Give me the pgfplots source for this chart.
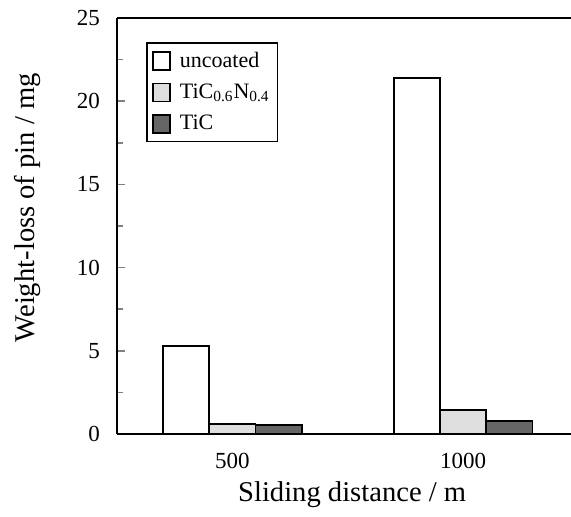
\documentclass[border=0pt]{standalone}
\usepackage{pgfplots}
\pgfplotsset{compat=1.18}
\usepackage{fontspec}
\setmainfont{Liberation Serif}

\pgfplotstableread{
x   uncoated  ticn  tic
0   5.31      0.62  0.52
1   21.4      1.44  0.78
}\wear

\begin{document}
\begin{tikzpicture}
\path[use as bounding box] (-58.5pt,-41.5pt) rectangle (227pt,217pt);
\begin{axis}[
  at={(0pt,0pt)}, anchor=south west,
  scale only axis,
  width=227pt, height=208pt,
  ybar=0pt, bar width=0.2,
  xmin=-0.5, xmax=1.467,
  ymin=0, ymax=25,
  axis x line*=bottom, axis y line*=left,
  axis line style={-, line width=0.9pt},
  xtick={0,1}, xticklabels={500,1000},
  x tick style={draw=none},
  extra x ticks={0.5}, extra x tick labels={},
  extra x tick style={tick align=outside, major tick length=4pt,
    tick style={draw=black, line width=0.8pt}},
  ytick={0,5,...,25}, minor y tick num=1,
  y tick style={line width=0.8pt},
  tick align=inside,
  major tick length=4pt, minor tick length=3pt,
  /pgf/number format/assume math mode=true,
  ticklabel style={font=\fontsize{11.5}{13}\selectfont},
  xticklabel style={yshift=-6pt},
  yticklabel style={xshift=-5pt},
  xlabel={Sliding distance / m},
  ylabel={Weight-loss of pin / mg},
  every axis x label/.style={at={(axis description cs:0.518,-0.145)}, anchor=center,
    font=\fontsize{14.3}{16}\selectfont},
  every axis y label/.style={at={(axis description cs:-0.196,0.544)}, rotate=90, anchor=center,
    font=\fontsize{14.3}{16}\selectfont},
  legend style={at={(axis description cs:0.064,0.942)}, anchor=north west,
    draw=black, line width=0.8pt, font=\fontsize{11}{13}\selectfont,
    row sep=2.8pt, inner xsep=2pt, inner ysep=2.5pt},
  legend cell align=left,
  legend image code/.code={\path[draw=none, fill=none] (-1pt,0pt) -- (11.5pt,0pt);
    \draw[#1] (0pt,-4.5pt) rectangle (8.5pt,4.5pt);},
  every axis plot/.append style={draw=black, line width=0.9pt},
]
\addplot[fill=white] table[x=x, y=uncoated] {\wear};
\addplot[fill=black!13] table[x=x, y=ticn] {\wear};
\addplot[fill=black!60] table[x=x, y=tic] {\wear};
\legend{uncoated, TiC\textsubscript{0.6}N\textsubscript{0.4}, TiC}
\draw[line width=0.9pt] (rel axis cs:0,1) -- (rel axis cs:1,1);
\end{axis}
\end{tikzpicture}
\end{document}
